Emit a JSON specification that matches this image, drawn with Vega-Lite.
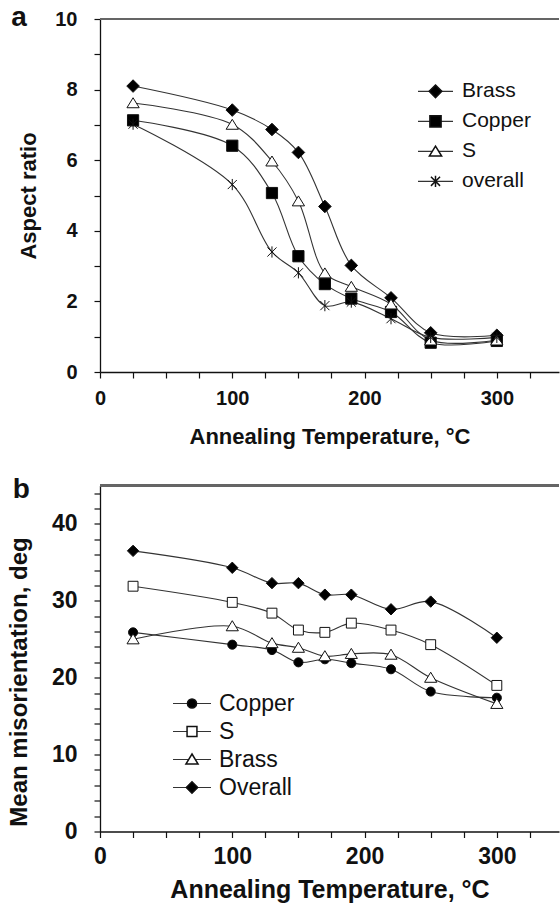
{
  "$schema": "https://vega.github.io/schema/vega-lite/v6.json",
  "background": "white",
  "padding": {"left": 7, "top": 4, "right": 0, "bottom": 0},
  "spacing": 28.5,
  "resolve": {
    "scale": {"shape": "independent", "fill": "independent", "stroke": "independent"},
    "legend": {"shape": "independent", "fill": "independent", "stroke": "independent"}
  },
  "config": {
    "view": {"stroke": null},
    "font": "Liberation Sans",
    "axis": {
      "grid": false,
      "domainColor": "#111",
      "domainWidth": 1.3,
      "tickColor": "#111",
      "tickWidth": 1.2,
      "labelColor": "#111",
      "titleColor": "#111",
      "labelFont": "Liberation Sans",
      "titleFont": "Liberation Sans",
      "labelFontWeight": "bold",
      "titleFontWeight": "bold",
      "labelFlush": false,
      "labelOverlap": false
    },
    "legend": {
      "padding": 0,
      "labelFont": "Liberation Sans",
      "labelColor": "#111",
      "labelFontWeight": "normal"
    }
  },
  "datasets": {
    "aspect": [
      {"T": 25, "value": 8.10, "series": "Brass"},
      {"T": 100, "value": 7.42, "series": "Brass"},
      {"T": 130, "value": 6.87, "series": "Brass"},
      {"T": 150, "value": 6.22, "series": "Brass"},
      {"T": 170, "value": 4.69, "series": "Brass"},
      {"T": 190, "value": 3.02, "series": "Brass"},
      {"T": 220, "value": 2.10, "series": "Brass"},
      {"T": 250, "value": 1.11, "series": "Brass"},
      {"T": 300, "value": 1.04, "series": "Brass"},
      {"T": 25, "value": 7.13, "series": "Copper"},
      {"T": 100, "value": 6.41, "series": "Copper"},
      {"T": 130, "value": 5.07, "series": "Copper"},
      {"T": 150, "value": 3.28, "series": "Copper"},
      {"T": 170, "value": 2.49, "series": "Copper"},
      {"T": 190, "value": 2.08, "series": "Copper"},
      {"T": 220, "value": 1.70, "series": "Copper"},
      {"T": 250, "value": 0.83, "series": "Copper"},
      {"T": 300, "value": 0.88, "series": "Copper"},
      {"T": 25, "value": 7.62, "series": "S"},
      {"T": 100, "value": 7.01, "series": "S"},
      {"T": 130, "value": 5.97, "series": "S"},
      {"T": 150, "value": 4.84, "series": "S"},
      {"T": 170, "value": 2.80, "series": "S"},
      {"T": 190, "value": 2.42, "series": "S"},
      {"T": 220, "value": 1.92, "series": "S"},
      {"T": 250, "value": 0.90, "series": "S"},
      {"T": 300, "value": 0.90, "series": "S"},
      {"T": 25, "value": 7.02, "series": "overall"},
      {"T": 100, "value": 5.31, "series": "overall"},
      {"T": 130, "value": 3.40, "series": "overall"},
      {"T": 150, "value": 2.81, "series": "overall"},
      {"T": 170, "value": 1.88, "series": "overall"},
      {"T": 190, "value": 1.98, "series": "overall"},
      {"T": 220, "value": 1.51, "series": "overall"},
      {"T": 250, "value": 0.98, "series": "overall"},
      {"T": 300, "value": 0.98, "series": "overall"}
    ],
    "misorientation": [
      {"T": 25, "value": 25.9, "series": "Copper"},
      {"T": 100, "value": 24.3, "series": "Copper"},
      {"T": 130, "value": 23.6, "series": "Copper"},
      {"T": 150, "value": 22.0, "series": "Copper"},
      {"T": 170, "value": 22.4, "series": "Copper"},
      {"T": 190, "value": 21.9, "series": "Copper"},
      {"T": 220, "value": 21.1, "series": "Copper"},
      {"T": 250, "value": 18.2, "series": "Copper"},
      {"T": 300, "value": 17.4, "series": "Copper"},
      {"T": 25, "value": 31.9, "series": "S"},
      {"T": 100, "value": 29.8, "series": "S"},
      {"T": 130, "value": 28.4, "series": "S"},
      {"T": 150, "value": 26.2, "series": "S"},
      {"T": 170, "value": 25.9, "series": "S"},
      {"T": 190, "value": 27.1, "series": "S"},
      {"T": 220, "value": 26.2, "series": "S"},
      {"T": 250, "value": 24.3, "series": "S"},
      {"T": 300, "value": 19.0, "series": "S"},
      {"T": 25, "value": 25.0, "series": "Brass"},
      {"T": 100, "value": 26.7, "series": "Brass"},
      {"T": 130, "value": 24.5, "series": "Brass"},
      {"T": 150, "value": 23.9, "series": "Brass"},
      {"T": 170, "value": 22.8, "series": "Brass"},
      {"T": 190, "value": 23.1, "series": "Brass"},
      {"T": 220, "value": 23.0, "series": "Brass"},
      {"T": 250, "value": 20.0, "series": "Brass"},
      {"T": 300, "value": 16.6, "series": "Brass"},
      {"T": 25, "value": 36.5, "series": "Overall"},
      {"T": 100, "value": 34.3, "series": "Overall"},
      {"T": 130, "value": 32.3, "series": "Overall"},
      {"T": 150, "value": 32.3, "series": "Overall"},
      {"T": 170, "value": 30.8, "series": "Overall"},
      {"T": 190, "value": 30.8, "series": "Overall"},
      {"T": 220, "value": 28.9, "series": "Overall"},
      {"T": 250, "value": 29.9, "series": "Overall"},
      {"T": 300, "value": 25.2, "series": "Overall"}
    ]
  },
  "vconcat": [
    {
      "width": 459,
      "height": 353,
      "data": {"name": "aspect"},
      "encoding": {
        "x": {
          "field": "T", "type": "quantitative",
          "scale": {"domain": [0, 347], "nice": false},
          "axis": {
            "title": "Annealing Temperature, °C",
            "values": [0, 25, 50, 75, 100, 125, 150, 175, 200, 225, 250, 275, 300, 325],
            "format": "d",
            "labelExpr": "datum.value % 100 === 0 ? datum.label : ''",
            "labelFontSize": 20, "labelPadding": 10, "tickSize": 6,
            "titleFontSize": 22, "titlePadding": 18,
            "encode": {"ticks": {
              "y": {"condition": {"test": "datum.value % 100 === 0", "value": 6}, "value": 0},
              "y2": {"value": -6}
            }}
          }
        },
        "y": {
          "field": "value", "type": "quantitative",
          "scale": {"domain": [0, 10], "nice": false},
          "axis": {
            "title": "Aspect ratio",
            "values": [0, 0.5, 1, 1.5, 2, 2.5, 3, 3.5, 4, 4.5, 5, 5.5, 6, 6.5, 7, 7.5, 8, 8.5, 9, 9.5, 10],
            "format": "d",
            "labelExpr": "datum.value % 2 === 0 ? datum.label : ''",
            "labelFontSize": 20, "labelPadding": 17, "tickSize": 6,
            "titleFontSize": 22, "titlePadding": 14,
            "encode": {"ticks": {
              "x": {"condition": {"test": "datum.value % 2 === 0", "value": -6}, "value": 0},
              "x2": {"value": 6}
            }}
          }
        }
      },
      "layer": [
        {
          "mark": {"type": "rule", "color": "#666", "strokeWidth": 1.5},
          "encoding": {"x": null, "y": {"datum": 10}}
        },
        {
          "transform": [{"filter": "datum.T === 25 && datum.series === 'Brass'"}],
          "mark": {"type": "text", "align": "left", "baseline": "bottom", "fontSize": 28, "fontWeight": "bold", "color": "#111", "text": "a"},
          "encoding": {"x": {"datum": -67}, "y": {"datum": 9.62}}
        },
        {
          "mark": {"type": "line", "interpolate": "catmull-rom", "strokeWidth": 1.1},
          "encoding": {
            "stroke": {
              "field": "series",
              "sort": ["Brass", "Copper", "S", "overall"],
              "scale": {"range": ["#333", "#333", "#333", "#333"]},
              "legend": {
                "title": null, "orient": "none", "legendX": 317, "legendY": 57.6, "zindex": 0,
                "symbolType": "stroke", "symbolSize": 1225, "symbolStrokeWidth": 1.1,
                "labelFontSize": 21, "labelOffset": 8, "clipHeight": 29.5, "rowPadding": 0, "labelColor": "transparent"
              }
            }
          }
        },
        {
          "mark": {"type": "point", "filled": true, "opacity": 1, "stroke": "#111", "strokeWidth": 1, "size": 1225},
          "encoding": {
            "shape": {
              "field": "series",
              "scale": {
                "domain": ["Brass", "Copper", "S", "overall"],
                "range": ["M0,-0.36L0.36,0L0,0.36L-0.36,0Z", "M-0.32,-0.32H0.32V0.32H-0.32Z", "M0,-0.3L0.35,0.27H-0.35Z", "M-0.26,-0.26L0.26,0.26M-0.26,0.26L0.26,-0.26M0,-0.32V0.32"]
              },
              "legend": {
                "title": null, "orient": "none", "legendX": 317, "legendY": 57.6, "zindex": 1,
                "symbolSize": 1225, "labelFontSize": 21, "labelOffset": 8, "clipHeight": 29.5, "rowPadding": 0,
                "encode": {"symbols": {"stroke": {"value": "#111"}, "strokeWidth": {"value": 1}}}
              }
            },
            "fill": {
              "field": "series",
              "scale": {"domain": ["Brass", "Copper", "S", "overall"], "range": ["#000", "#000", "#fff", "transparent"]},
              "legend": {
                "title": null, "orient": "none", "legendX": 317, "legendY": 57.6, "zindex": 1,
                "symbolSize": 1225, "labelFontSize": 21, "labelOffset": 8, "clipHeight": 29.5, "rowPadding": 0,
                "encode": {"symbols": {"stroke": {"value": "#111"}, "strokeWidth": {"value": 1}}}
              }
            }
          }
        }
      ]
    },
    {
      "width": 459,
      "height": 346,
      "data": {"name": "misorientation"},
      "encoding": {
        "x": {
          "field": "T", "type": "quantitative",
          "scale": {"domain": [0, 347], "nice": false},
          "axis": {
            "title": "Annealing Temperature, °C",
            "values": [0, 25, 50, 75, 100, 125, 150, 175, 200, 225, 250, 275, 300, 325],
            "format": "d",
            "labelExpr": "datum.value % 100 === 0 ? datum.label : ''",
            "labelFontSize": 23, "labelPadding": 8, "tickSize": 6,
            "titleFontSize": 25, "titlePadding": 9,
            "encode": {"ticks": {
              "y": {"condition": {"test": "datum.value % 100 === 0", "value": 6}, "value": 0},
              "y2": {"value": -6}
            }}
          }
        },
        "y": {
          "field": "value", "type": "quantitative",
          "scale": {"domain": [0, 45], "nice": false},
          "axis": {
            "title": "Mean misorientation, deg",
            "values": [0, 2, 4, 6, 8, 10, 12, 14, 16, 18, 20, 22, 24, 26, 28, 30, 32, 34, 36, 38, 40, 42, 44],
            "format": "d",
            "labelExpr": "datum.value % 10 === 0 ? datum.label : ''",
            "labelFontSize": 23, "labelPadding": 17, "tickSize": 6,
            "titleFontSize": 24, "titlePadding": 20, "titleY": 196,
            "encode": {"ticks": {
              "x": {"condition": {"test": "datum.value % 10 === 0", "value": -6}, "value": 0},
              "x2": {"value": 6}
            }}
          }
        }
      },
      "layer": [
        {
          "mark": {"type": "rule", "color": "#666", "strokeWidth": 1.5},
          "encoding": {"x": null, "y": {"datum": 45}}
        },
        {
          "transform": [{"filter": "datum.T === 25 && datum.series === 'Copper'"}],
          "mark": {"type": "text", "align": "left", "baseline": "bottom", "fontSize": 28, "fontWeight": "bold", "color": "#111", "text": "b"},
          "encoding": {"x": {"datum": -66}, "y": {"datum": 42.54}}
        },
        {
          "mark": {"type": "line", "interpolate": "catmull-rom", "strokeWidth": 1.1},
          "encoding": {
            "stroke": {
              "field": "series",
              "sort": ["Copper", "S", "Brass", "Overall"],
              "scale": {"range": ["#333", "#333", "#333", "#333"]},
              "legend": {
                "title": null, "orient": "none", "legendX": 72, "legendY": 204, "zindex": 0,
                "symbolType": "stroke", "symbolSize": 1444, "symbolStrokeWidth": 1.1,
                "labelFontSize": 23, "labelOffset": 7, "clipHeight": 28, "rowPadding": 0, "labelColor": "transparent"
              }
            }
          }
        },
        {
          "mark": {"type": "point", "filled": true, "opacity": 1, "stroke": "#111", "strokeWidth": 1, "size": 1444},
          "encoding": {
            "shape": {
              "field": "series",
              "scale": {
                "domain": ["Copper", "S", "Brass", "Overall"],
                "range": ["M0.24,0A0.24,0.24 0 1 1 -0.24,0A0.24,0.24 0 1 1 0.24,0Z", "M-0.26,-0.26H0.26V0.26H-0.26Z", "M0,-0.29L0.32,0.24H-0.32Z", "M0,-0.3L0.3,0L0,0.3L-0.3,0Z"]
              },
              "legend": {
                "title": null, "orient": "none", "legendX": 72, "legendY": 204, "zindex": 1,
                "symbolSize": 1444, "labelFontSize": 23, "labelOffset": 7, "clipHeight": 28, "rowPadding": 0,
                "encode": {"symbols": {"stroke": {"value": "#111"}, "strokeWidth": {"value": 1}}}
              }
            },
            "fill": {
              "field": "series",
              "scale": {"domain": ["Copper", "S", "Brass", "Overall"], "range": ["#000", "#fff", "#fff", "#000"]},
              "legend": {
                "title": null, "orient": "none", "legendX": 72, "legendY": 204, "zindex": 1,
                "symbolSize": 1444, "labelFontSize": 23, "labelOffset": 7, "clipHeight": 28, "rowPadding": 0,
                "encode": {"symbols": {"stroke": {"value": "#111"}, "strokeWidth": {"value": 1}}}
              }
            }
          }
        }
      ]
    }
  ]
}
